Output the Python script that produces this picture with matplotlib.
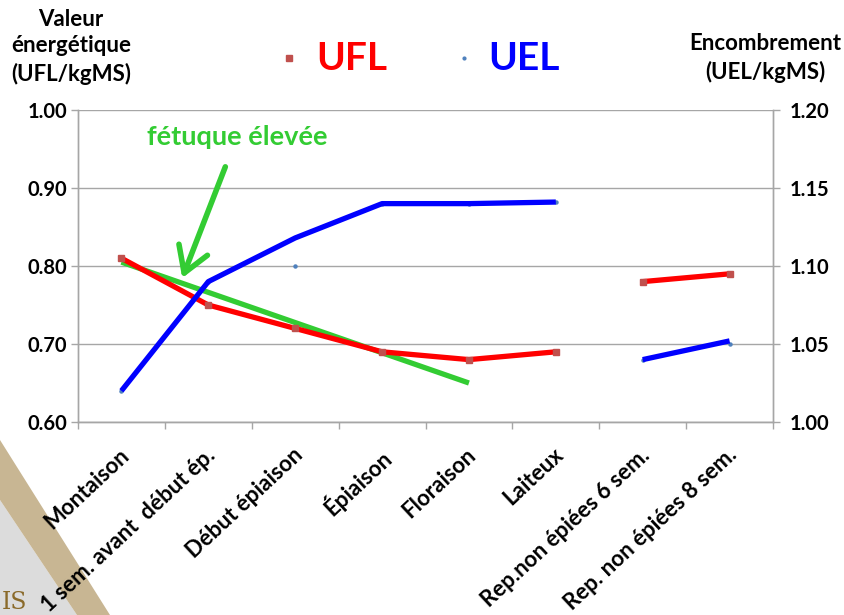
import numpy as np
import matplotlib
matplotlib.use("Agg")
import matplotlib.pyplot as plt
from matplotlib.lines import Line2D
from matplotlib.patches import Polygon
from matplotlib.ticker import FixedLocator, FormatStrFormatter
from matplotlib.transforms import ScaledTranslation

plt.rcParams['font.family'] = ['Lato', 'DejaVu Sans']

# Stades de la fétuque élevée
categories = ["Montaison", "1 sem. avant  début ép.", "Début épiaison", "Épiaison",
              "Floraison", "Laiteux", "Rep.non épiées 6 sem.", "Rep. non épiées 8 sem."]

# Valeur énergétique (UFL/kgMS), axe gauche
ufl = [0.81, 0.75, 0.72, 0.69, 0.68, 0.69, 0.78, 0.79]
# Encombrement (UEL/kgMS), axe droit : tracé épais
uel = [1.02, 1.09, 1.118, 1.14, 1.14, 1.141, 1.04, 1.052]
# Points de la série UEL
uel_points = [1.02, 1.09, 1.10, 1.14, 1.14, 1.141, 1.04, 1.05]
# Tendance fétuque élevée (du premier au dernier stade indiqué)
fetuque_stades = ["Montaison", "Floraison"]
fetuque_ufl = [0.805, 0.65]

# Segments continus (cycle de première pousse, repousses)
segments = [(0, 6), (6, 8)]

left_ticks = [0.60, 0.70, 0.80, 0.90, 1.00]
right_ticks = [1.00, 1.05, 1.10, 1.15, 1.20]

RED = "#ff0000"
BLUE = "#0000ff"
GREEN = "#33cc33"
GRID = "#a6a6a6"

fig = plt.figure(figsize=(8.44, 6.15), dpi=100)
fig.patch.set_facecolor("white")

# Bandeau décoratif en bas à gauche
fig.add_artist(Polygon([(0, 0.187), (0.0912, 0), (0, 0)], closed=True,
                       transform=fig.transFigure, facecolor="#dcdcdc",
                       edgecolor="none", zorder=-2))
fig.add_artist(Polygon([(0, 0.2846), (0.1303, 0), (0.0912, 0), (0, 0.187)],
                       closed=True, transform=fig.transFigure,
                       facecolor="#c8b693", edgecolor="none", zorder=-2))
fig.text(0.002, 0.002, "IS", fontsize=17, color="#8a6a2a", family="DejaVu Serif",
         ha="left", va="bottom", zorder=-1)

ax = fig.add_axes([0.0924, 0.3138, 0.8235, 0.5073])
ax2 = ax.twinx()

x = np.arange(len(categories))
cat_index = {c: i for i, c in enumerate(categories)}

ax.set_xlim(-0.5, len(categories) - 0.5)
ax.set_ylim(0.60, 1.00)
ax2.set_ylim(1.00, 1.20)

# Grille horizontale
for v in left_ticks:
    ax.axhline(v, color=GRID, lw=1.0, zorder=0.5)

# Fétuque élevée (tendance)
fx = [cat_index[s] for s in fetuque_stades]
ax.plot(fx, fetuque_ufl, color=GREEN, lw=3.8, solid_capstyle="butt", zorder=2)

# UFL
ufl_arr = np.array(ufl)
for a, b in segments:
    ax.plot(x[a:b], ufl_arr[a:b], color=RED, lw=3.8, solid_capstyle="butt", zorder=3)
ax.plot(x, ufl_arr, ls="none", marker="s", ms=4, color="#c0504d", zorder=4)

# UEL
uel_arr = np.array(uel)
ax2.plot(x, uel_points, ls="none", marker="o", ms=2.2, color="#4f81bd", zorder=1)
for a, b in segments:
    ax2.plot(x[a:b], uel_arr[a:b], color=BLUE, lw=3.8, solid_capstyle="butt", zorder=3)

# Axes
for axis in (ax, ax2):
    for s in ("top", "bottom", "left", "right"):
        axis.spines[s].set_color(GRID)
        axis.spines[s].set_linewidth(1.0)
    axis.spines["top"].set_visible(False)

ax.yaxis.set_major_locator(FixedLocator(left_ticks))
ax.yaxis.set_major_formatter(FormatStrFormatter("%.2f"))
ax2.yaxis.set_major_locator(FixedLocator(right_ticks))
ax2.yaxis.set_major_formatter(FormatStrFormatter("%.2f"))
ax.tick_params(axis="y", length=5, width=1, color=GRID, pad=3, labelsize=14.5)
ax2.tick_params(axis="y", length=5, width=1, color=GRID, pad=7, labelsize=14.5)
for lab in ax.get_yticklabels() + ax2.get_yticklabels():
    lab.set_fontweight("bold")

ax.set_xticks(x)
ax.set_xticklabels(categories, rotation=43, ha="right", rotation_mode="anchor",
                   fontsize=16, fontweight="bold")
ax.tick_params(axis="x", which="major", length=0, pad=16)
shift = ScaledTranslation(-3 / 100, 0, fig.dpi_scale_trans)
for lab in ax.get_xticklabels():
    lab.set_transform(lab.get_transform() + shift)
ax.set_xticks(np.arange(-0.5, len(categories)), minor=True)
ax.tick_params(axis="x", which="minor", length=5, width=1, color=GRID)

# Titres des axes
def fig_px(px, py):
    return px / 844, 1 - py / 615

for line, py in zip(["Valeur", "énergétique", "(UFL/kgMS)"], [20, 46, 74]):
    fig.text(*fig_px(71, py), line, ha="center", va="center",
             fontsize=16, fontweight="bold")
for line, py in zip(["Encombrement", "(UEL/kgMS)"], [43, 72]):
    fig.text(*fig_px(765, py), line, ha="center", va="center",
             fontsize=16, fontweight="bold")

# Légende
fig.add_artist(Line2D([289 / 844], [1 - 58 / 615], marker="s", ms=4,
                      color="#c0504d", ls="none", transform=fig.transFigure))
fig.text(316 / 844, 1 - 58 / 615, "UFL", color=RED, fontsize=28, fontweight="bold",
         ha="left", va="center")
fig.add_artist(Line2D([464 / 844], [1 - 58 / 615], marker="o", ms=2,
                      color="#4f81bd", ls="none", transform=fig.transFigure))
fig.text(488 / 844, 1 - 58 / 615, "UEL", color=BLUE, fontsize=28, fontweight="bold",
         ha="left", va="center")

# Annotation fétuque élevée
ax.text(0.229, 0.915, "fétuque élevée", transform=ax.transAxes, color=GREEN,
        fontsize=19.5, fontweight="bold", ha="center", va="center")
ax.annotate("", xy=(0.150, 0.4615), xytext=(0.212, 0.818),
            xycoords="axes fraction", textcoords="axes fraction",
            arrowprops=dict(arrowstyle="->,head_length=0.9,head_width=0.55",
                            color=GREEN, lw=4, mutation_scale=20,
                            shrinkA=0, shrinkB=0))

fig.savefig("out.png", dpi=100)
